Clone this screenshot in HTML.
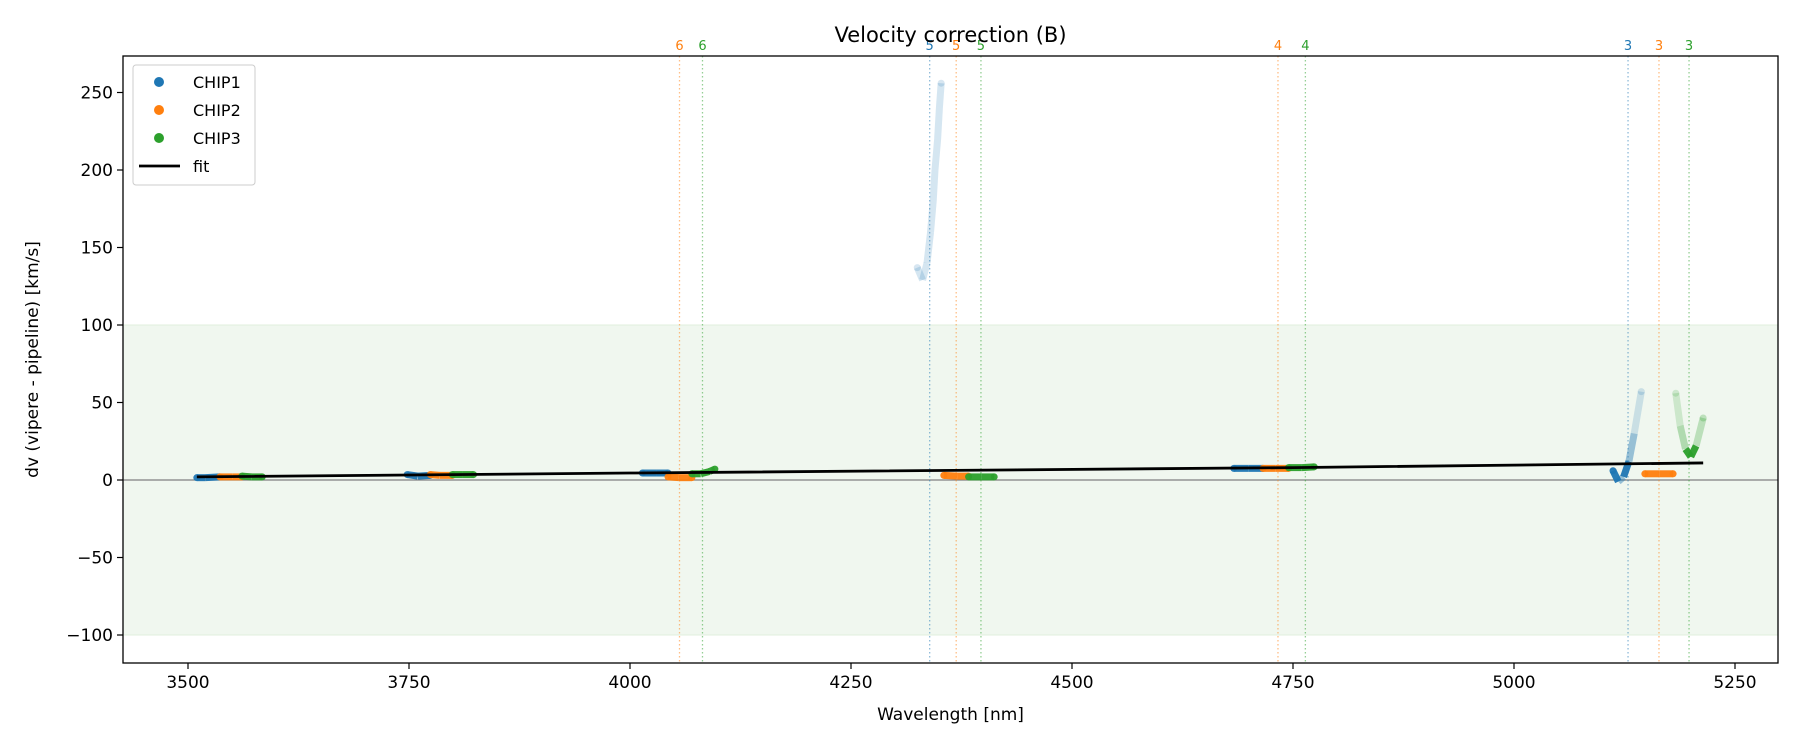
<!DOCTYPE html>
<html><head><meta charset="utf-8"><style>
body{margin:0;background:#fff;}
svg{display:block;font-family:"DejaVu Sans","Liberation Sans",sans-serif;}
</style></head><body>
<svg id="chart" width="1800" height="750" viewBox="0 0 1800 750" xmlns="http://www.w3.org/2000/svg">
<g id="plot"></g>
</svg>
<script>
// ---- data ----
const xTicks = [3500, 3750, 4000, 4250, 4500, 4750, 5000, 5250];
const yTicks = [250, 200, 150, 100, 50, 0, -50, -100];
const chip1Segments = [
  {w:[3510,3520,3536], v:[1.5,1.5,2]},
  {w:[3748,3760,3774], v:[3.5,2.5,3]},
  {w:[4014,4030,4043], v:[4.5,4.5,4.5]},
  {w:[4325,4331,4336,4340,4343,4345,4348,4350,4352], v:[137,129,140,160,180,200,220,240,256]},
  {w:[4683,4700,4716], v:[7.5,7.5,7.5]},
  {w:[5112,5118,5124,5130,5136,5144], v:[6,-1,2,12,30,57]}
];
const chip2Segments = [
  {w:[3536,3550,3561], v:[2,2,2]},
  {w:[3774,3785,3799], v:[3.5,3,3]},
  {w:[4043,4055,4070], v:[2,1.5,1.5]},
  {w:[4355,4370,4383], v:[3,2.5,2.5]},
  {w:[4716,4730,4745], v:[7.5,7.5,7.5]},
  {w:[5148,5165,5180], v:[4,4,4]}
];
const chip3Segments = [
  {w:[3561,3572,3584], v:[2.5,2,2]},
  {w:[3799,3810,3823], v:[3.5,3.5,3.5]},
  {w:[4070,4080,4090,4096], v:[4,4,5.5,7]},
  {w:[4383,4398,4412], v:[2,2,2]},
  {w:[4745,4760,4774], v:[8,8,8.5]},
  {w:[5183,5188,5194,5200,5206,5214], v:[56,35,20,15,22,40]}
];
const fitW = [3510, 4000, 4750, 5214];
const fitV = [2, 4.5, 8, 11];
const markerLines = [
  {w:4056, label:"6", c:"#ff7f0e"}, {w:4082, label:"6", c:"#2ca02c"},
  {w:4339, label:"5", c:"#1f77b4"}, {w:4369, label:"5", c:"#ff7f0e"}, {w:4397, label:"5", c:"#2ca02c"},
  {w:4733, label:"4", c:"#ff7f0e"}, {w:4764, label:"4", c:"#2ca02c"},
  {w:5129, label:"3", c:"#1f77b4"}, {w:5164, label:"3", c:"#ff7f0e"}, {w:5198, label:"3", c:"#2ca02c"}
];
const bandLow = -100, bandHigh = 100;

// ---- axes ----
const L=123, R=1778, T=56, B=663;
const X = w => 630 + (w-4000)*0.884;
const Y = v => 480 - v*1.55;
const NS="http://www.w3.org/2000/svg";
const g=document.getElementById('plot');
function mk(tag, attrs, parent){const e=document.createElementNS(NS,tag);for(const k in attrs)e.setAttribute(k,attrs[k]);(parent||g).appendChild(e);return e;}
function fitAt(w){for(let i=0;i<fitW.length-1;i++){if(w<=fitW[i+1]||i==fitW.length-2){const t=(w-fitW[i])/(fitW[i+1]-fitW[i]);return fitV[i]+t*(fitV[i+1]-fitV[i]);}}}

const band=mk('rect',{x:L,y:Y(bandHigh),width:R-L,height:Y(bandLow)-Y(bandHigh),fill:'#f0f7ef',stroke:'#e0efdd','stroke-width':1});


const zl=mk('line',{x1:L,x2:R,y1:Y(0),y2:Y(0),stroke:'#808080','stroke-width':1.2});



markerLines.forEach(m=>{
  const ln=mk('line',{x1:X(m.w),x2:X(m.w),y1:T,y2:B,stroke:m.c,'stroke-width':1.3,'stroke-dasharray':'1.5,2.5',opacity:0.5});
  
  
  const tx=mk('text',{x:X(m.w),y:T-6,'text-anchor':'middle','font-size':13,fill:m.c});
  tx.textContent=m.label;
  
  
});

function drawSeries(segs,color,name){
  segs.forEach(s=>{
    const n=s.w.length;
    for(let i=0;i<n-1;i++){
      const dev=Math.abs((s.v[i]+s.v[i+1])/2-fitAt(s.w[i]));
      const op=dev<9?0.95:Math.max(0.18,0.6-dev/60);
      const ln=mk('line',{x1:X(s.w[i]),y1:Y(s.v[i]),x2:X(s.w[i+1]),y2:Y(s.v[i+1]),stroke:color,'stroke-width':7,'stroke-linecap':'butt',opacity:op});
      
      
      if(i==0||i==n-2){
        const k=i==0?0:n-1;
        const c=mk('circle',{cx:X(s.w[k]),cy:Y(s.v[k]),r:3.5,fill:color,opacity:op});
        
        
      }
    }
  });
}
drawSeries(chip1Segments,'#1f77b4','chip1');
drawSeries(chip2Segments,'#ff7f0e','chip2');
drawSeries(chip3Segments,'#2ca02c','chip3');

const fit=mk('polyline',{points:fitW.map((w,i)=>X(w)+','+Y(fitV[i])).join(' '),fill:'none',stroke:'#000','stroke-width':2.8});



const frame=mk('rect',{x:L,y:T,width:R-L,height:B-T,fill:'none',stroke:'#000','stroke-width':1.3});



xTicks.forEach(t=>{
  mk('line',{x1:X(t),x2:X(t),y1:B,y2:B+6,stroke:'#000','stroke-width':1.2});
  const tx=mk('text',{x:X(t),y:B+25,'text-anchor':'middle','font-size':17});
  tx.textContent=t;
  
  
});
yTicks.forEach(t=>{
  mk('line',{x1:L-6,x2:L,y1:Y(t),y2:Y(t),stroke:'#000','stroke-width':1.2});
  const tx=mk('text',{x:L-10,y:Y(t)+6,'text-anchor':'end','font-size':17});
  tx.textContent=t<0?'\u2212'+(-t):t;
  
  
});

const title=mk('text',{x:(L+R)/2,y:42,'text-anchor':'middle','font-size':21});
title.textContent='Velocity correction (B)';


const xl=mk('text',{x:(L+R)/2,y:720,'text-anchor':'middle','font-size':17});
xl.textContent='Wavelength [nm]';


const yl=mk('text',{x:0,y:0,'text-anchor':'middle','font-size':17,transform:'translate(38,'+((T+B)/2)+') rotate(-90)'});
yl.textContent='dv (vipere - pipeline) [km/s]';



// legend
const lg=mk('g',{});


mk('rect',{x:133,y:65,width:122,height:120,rx:3,fill:'#fff','fill-opacity':0.85,stroke:'#ccc','stroke-width':1},lg);
[['CHIP1','#1f77b4'],['CHIP2','#ff7f0e'],['CHIP3','#2ca02c']].forEach((e,i)=>{
  const c=mk('circle',{cx:159,cy:82+i*28,r:5,fill:e[1]},lg);
  
  
  const tx=mk('text',{x:193,y:88+i*28,'font-size':16},lg);
  tx.textContent=e[0];
  
  
});
mk('line',{x1:139,x2:180,y1:166,y2:166,stroke:'#000','stroke-width':2.8},lg);
const ft=mk('text',{x:193,y:172,'font-size':16},lg);
ft.textContent='fit';


</script>
</body></html>
